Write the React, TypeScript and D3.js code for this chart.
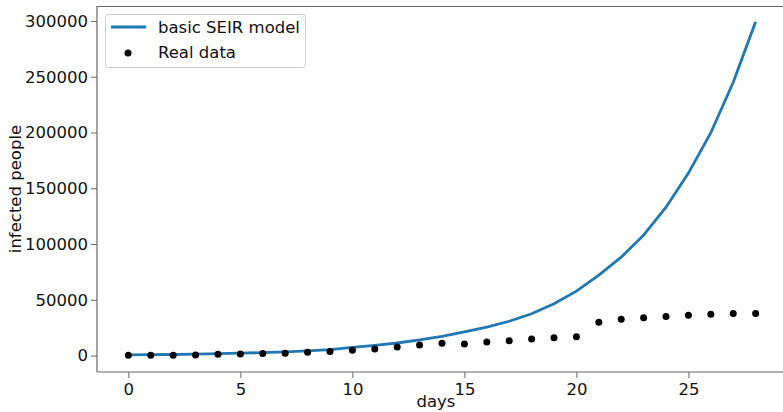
import React, { useEffect, useRef } from "react";
import * as d3 from "d3";

const days = d3.range(0, 29);
const seirModel = [600, 800, 1000, 1300, 1700, 2200, 2700, 3400, 4300, 5400, 7400, 9200, 11300, 14000, 17300, 21200, 25500, 30800, 37500, 46500, 57800, 72100, 88300, 108000, 133000, 163600, 199800, 245000, 299200];
const realData = [300, 350, 400, 450, 1200, 1450, 1800, 2100, 3000, 3600, 4750, 5900, 7700, 9500, 11000, 10400, 12200, 13400, 14900, 16100, 17000, 29800, 32600, 33900, 35000, 36200, 37000, 37700, 37800];
const xTicks = [0, 5, 10, 15, 20, 25];
const yTicks = [0, 50000, 100000, 150000, 200000, 250000, 300000];
const legendLabels = ["basic SEIR model", "Real data"];

const W = 783, H = 412;
const FONT = "DejaVu Sans, sans-serif";
const FS = 16.5;

const App = () => {
  const svgRef = useRef<SVGSVGElement>(null);

  useEffect(() => {
    const svg = d3.select(svgRef.current);
    svg.selectAll("*").remove();

    const left = 97, top = 6, bottom = 372;
    const x = d3.scaleLinear().domain([-1.4, 29.4]).range([left, 787]);
    const y = d3.scaleLinear().domain([-14700, 313400]).range([bottom, top]);

    svg.append("rect").attr("width", W).attr("height", H).attr("fill", "white");

    // axes
    const xAxis = svg.append("g")
      .attr("transform", `translate(0,${bottom})`)
      .call(d3.axisBottom(x).tickValues(xTicks).tickSize(6).tickPadding(5).tickFormat(d3.format("d")));
    const yAxis = svg.append("g")
      .attr("transform", `translate(${left},0)`)
      .call(d3.axisLeft(y).tickValues(yTicks).tickSize(6).tickPadding(3).tickFormat(d3.format("d")));
    [xAxis, yAxis].forEach((g) => {
      g.select(".domain").attr("stroke", "#666").attr("stroke-width", 1.2);
      g.selectAll(".tick line").attr("stroke", "#666");
      g.selectAll(".tick text").attr("fill", "#111").attr("font-family", FONT).attr("font-size", FS);
    });
    xAxis.select(".domain").attr("d", `M${left},0H${W}`);
    yAxis.select(".domain").attr("d", `M0,${bottom}V${top}`);
    svg.append("line").attr("x1", left).attr("x2", W).attr("y1", top + 0.5).attr("y2", top + 0.5)
      .attr("stroke", "#666").attr("stroke-width", 1.2);

    svg.append("text").attr("x", 436).attr("y", 407).attr("text-anchor", "middle")
      .attr("font-family", FONT).attr("font-size", FS).attr("fill", "#111").text("days");
    svg.append("text").attr("transform", `translate(21,189) rotate(-90)`).attr("text-anchor", "middle")
      .attr("font-family", FONT).attr("font-size", FS).attr("fill", "#111").text("infected people");

    // model line
    const line = d3.line<number>().x((_, i) => x(days[i])).y((d) => y(d));
    svg.append("path").datum(seirModel).attr("d", line).attr("fill", "none")
      .attr("stroke", "#1f77b4").attr("stroke-width", 2.8);

    // real data
    svg.append("g").selectAll("circle").data(realData).join("circle")
      .attr("cx", (_, i) => x(days[i])).attr("cy", (d) => y(d)).attr("r", 3.5).attr("fill", "black");

    // legend
    const lg = svg.append("g");
    lg.append("rect").attr("x", 105.5).attr("y", 14.5).attr("width", 200).attr("height", 53).attr("rx", 3)
      .attr("fill", "white").attr("fill-opacity", 0.8).attr("stroke", "#cccccc");
    lg.append("line").attr("x1", 111).attr("x2", 146).attr("y1", 27).attr("y2", 27)
      .attr("stroke", "#1f77b4").attr("stroke-width", 2.8);
    lg.append("circle").attr("cx", 128).attr("cy", 53).attr("r", 3.5).attr("fill", "black");
    legendLabels.forEach((t, i) => {
      lg.append("text").attr("x", 158).attr("y", 33 + i * 25).attr("font-family", FONT)
        .attr("font-size", FS).attr("fill", "#111").text(t);
    });
  }, []);

  return <svg ref={svgRef} width={W} height={H} style={{ position: "absolute", left: 0, top: 0 }}></svg>;
};

export default App;
